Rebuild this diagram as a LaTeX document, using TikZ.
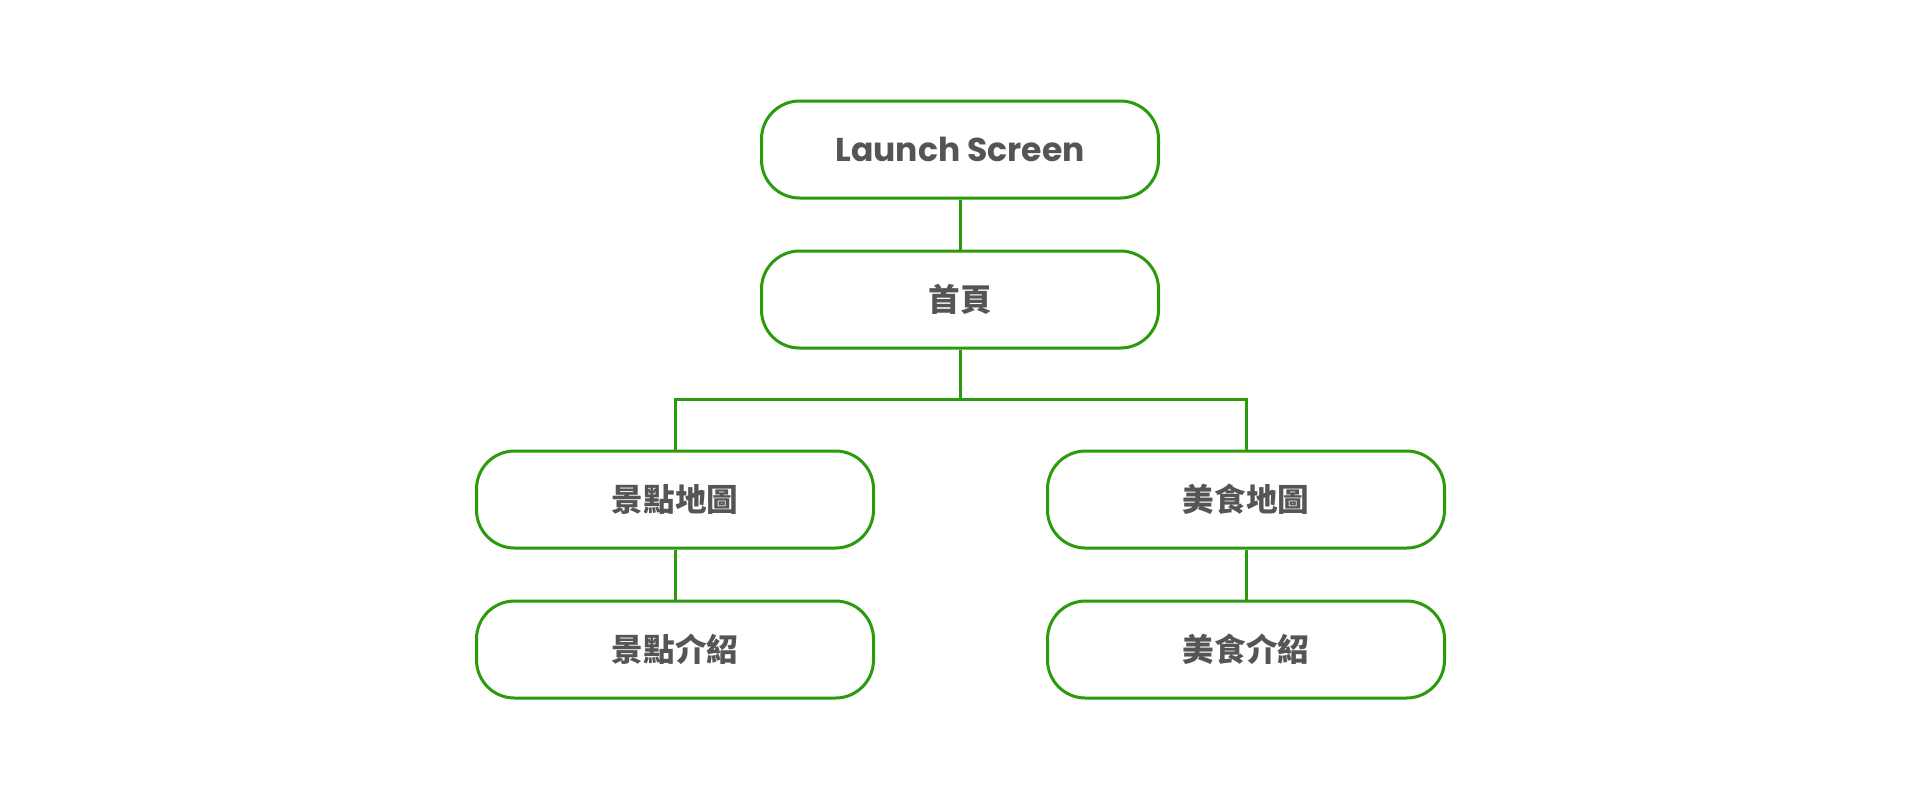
\documentclass[tikz,border=0pt]{standalone}
\usepackage{fontspec}
\setmainfont{Poppins}
\newfontfamily\cjk{Noto Sans CJK TC}
\usepackage{xcolor}
\usepackage{tikz}
\usetikzlibrary{calc, positioning}
\definecolor{treeGreen}{HTML}{2B9A0C}
\definecolor{labelGray}{HTML}{555555}
\tikzset{
    screen/.style={rectangle, draw=treeGreen, line width=1.5pt, fill=white, rounded corners=19pt, minimum width=198.5pt, minimum height=48.5pt, align=center, text=labelGray, font=\fontsize{16.5pt}{19pt}\selectfont\bfseries},
    zhScreen/.style={screen, font=\fontsize{15.8pt}{18pt}\selectfont\cjk\bfseries},
    link/.style={draw=treeGreen, line width=1.5pt}
}
\begin{document}
\begin{tikzpicture}[x=0.5pt, y=-0.5pt]
        \useasboundingbox (0,0) rectangle (1920,800);

        % Top level
        \node[screen] (Launch) at (960,149.5) {Launch Screen};
        \node[zhScreen, below=25pt of Launch] (Home) {首頁};

        % Map screens
        \node[zhScreen, below=50pt of Home, xshift=-142.5pt] (SpotMap) {景點地圖};
        \node[zhScreen, below=50pt of Home, xshift=143pt] (FoodMap) {美食地圖};

        % Detail screens
        \node[zhScreen, below=25pt of SpotMap] (SpotInfo) {景點介紹};
        \node[zhScreen, below=25pt of FoodMap] (FoodInfo) {美食介紹};

        % Connections
        \coordinate (Split) at ($(Home.south)!0.5!(SpotMap.north -| Home.south)$);
        \draw[link] (Launch) -- (Home);
        \draw[link] (Home.south) -- (Split) -| (SpotMap.north);
        \draw[link] (Split) -| (FoodMap.north);
        \draw[link] (SpotMap) -- (SpotInfo);
        \draw[link] (FoodMap) -- (FoodInfo);

    \end{tikzpicture}
\end{document}
